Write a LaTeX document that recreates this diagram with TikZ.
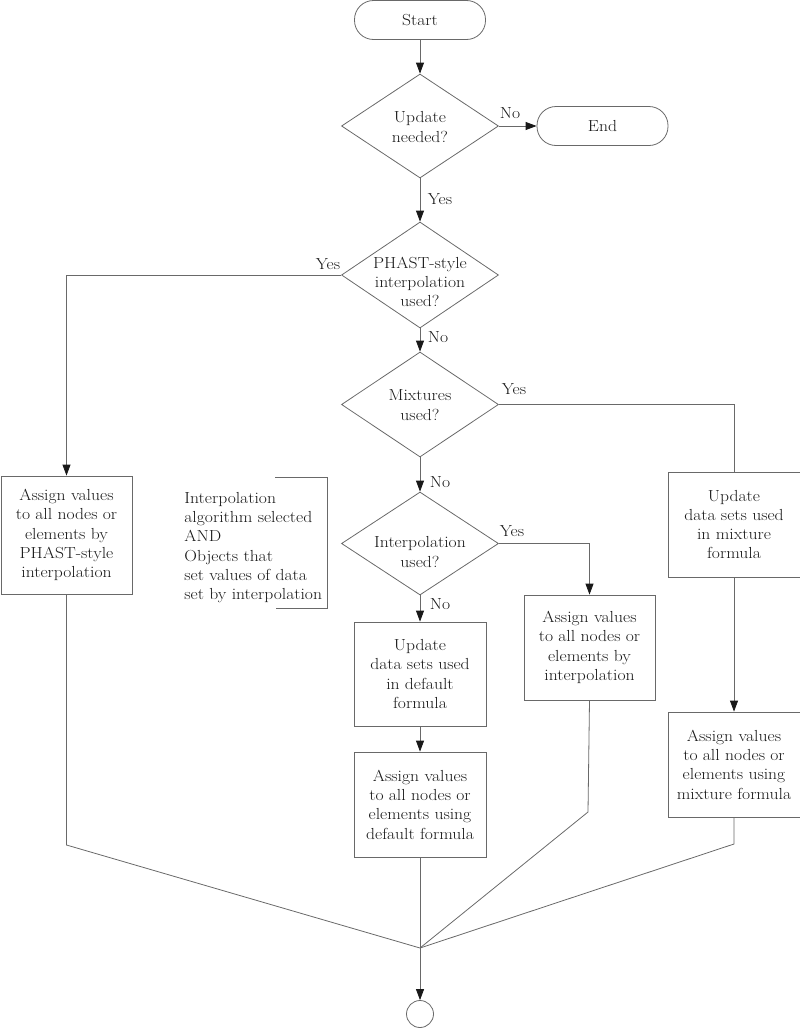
\documentclass[tikz,border=0pt]{standalone}
\usepackage{fontspec}
\setmainfont{Latin Modern Roman}[FakeStretch=1.1]
\usetikzlibrary{shapes.geometric,arrows.meta}
\definecolor{linec}{RGB}{105,105,105}
\definecolor{txtc}{RGB}{25,25,25}
\begin{document}
\begin{tikzpicture}[x=1pt,y=-1pt, line width=0.8pt,
  ln/.style={draw=linec},
  arr/.style={draw=linec,-{Triangle[length=11pt,width=8pt,color=txtc]}},
  term/.style={draw=linec, rectangle, rounded corners=19pt, minimum width=131pt, minimum height=39pt, inner sep=0pt, text=txtc, font=\fontsize{16}{19.3}\selectfont},
  dia/.style={draw=linec, diamond, minimum width=157pt, minimum height=104pt, inner sep=0pt},
  box/.style={draw=linec, rectangle, inner sep=0pt, minimum width=131pt, minimum height=105pt, align=center, text=txtc, font=\fontsize{16}{19.3}\selectfont},
  txt/.style={align=center, inner sep=0pt, text=txtc, font=\fontsize{16}{19.3}\selectfont},
  lbl/.style={inner sep=0pt, text=txtc, font=\fontsize{16}{18}\selectfont}]
\useasboundingbox (0,0) rectangle (800,1028);

% terminals
\node[term] (start) at (420,20) {Start};
\node[term] (end) at (602.5,126) {End};

% decisions
\node[dia] (d1) at (420,126) {};
\node[txt] (d1t) at (420,127) {Update\\needed?};
\node[dia, minimum height=106pt] (d2) at (420,275) {};
\node[txt] (d2t) at (420,282) {PHAST-style\\interpolation\\used?};
\node[dia, minimum height=105pt] (d3) at (420,404.5) {};
\node[txt] (d3t) at (420,405) {Mixtures\\used?};
\node[dia, minimum height=103pt] (d4) at (420,543.5) {};
\node[txt] (d4t) at (420,552) {Interpolation\\used?};

% process boxes
\node[box, minimum height=118pt] (b1) at (66.5,535) {Assign values\\to all nodes or\\elements by\\PHAST-style\\interpolation};
\node[box, minimum width=132pt, minimum height=104pt] (bud) at (420,674) {Update\\data sets used\\in default\\formula};
\node[box, minimum width=132pt, minimum height=105pt] (bad) at (420,804.5) {Assign values\\to all nodes or\\elements using\\default formula};
\node[box, minimum height=105pt] (bi) at (589.5,647.5) {Assign values\\to all nodes or\\elements by\\interpolation};
\node[box, minimum width=132pt, minimum height=105pt] (bm) at (734,524.5) {Update\\data sets used\\in mixture\\formula};
\node[box, minimum width=132pt, minimum height=105pt] (bam) at (734,764.5) {Assign values\\to all nodes or\\elements using\\mixture formula};

% annotation
\node[txt, align=left, anchor=west] (note) at (184,547.5) {Interpolation\\algorithm selected\\AND\\Objects that\\set values of data\\set by interpolation};
\coordinate (n1) at (275,477);
\coordinate (n2) at (327,477);
\coordinate (n3) at (327,608);
\coordinate (n4) at (276,608);
\draw[ln] (n1) -- (n2) -- (n3) -- (n4);

% stop
\node[draw=linec, circle, minimum size=27pt, inner sep=0pt] (stop) at (420,1014) {};

% labels
\node[lbl] (l1) at (510,113) {No};
\node[lbl] (l2) at (440,199) {Yes};
\node[lbl] (l3) at (328,264) {Yes};
\node[lbl] (l4) at (438,337) {No};
\node[lbl] (l5) at (514,389) {Yes};
\node[lbl] (l6) at (440,482) {No};
\node[lbl] (l7) at (512,531) {Yes};
\node[lbl] (l8) at (440,604) {No};

% connectors
\draw[arr] (start) -- (d1.north);
\draw[arr] (d1.east) -- (end.west);
\draw[arr] (d1.south) -- (d2.north);
\draw[arr] (d2.west) -| (b1.north);
\draw[arr] (d2.south) -- (d3.north);
\draw[ln] (d3.east) -| (bm.north);
\draw[arr] (d3.south) -- (d4.north);
\draw[arr] (d4.east) -| (bi.north);
\draw[arr] (d4.south) -- (bud.north);
\draw[arr] (bud.south) -- (bad.north);
\draw[arr] (bm.south) -- (bam.north);

\coordinate (J) at (420,948);
\coordinate (cL) at (66.5,845);
\coordinate (cI) at (588,812);
\coordinate (cM) at (734,844);
\draw[ln] (b1.south) -- (cL) -- (J);
\draw[ln] (bi.south) -- (cI) -- (J);
\draw[ln] (bam.south) -- (cM) -- (J);
\draw[ln] (bad.south) -- (J);
\draw[arr] (J) -- (stop.north);
\end{tikzpicture}
\end{document}
